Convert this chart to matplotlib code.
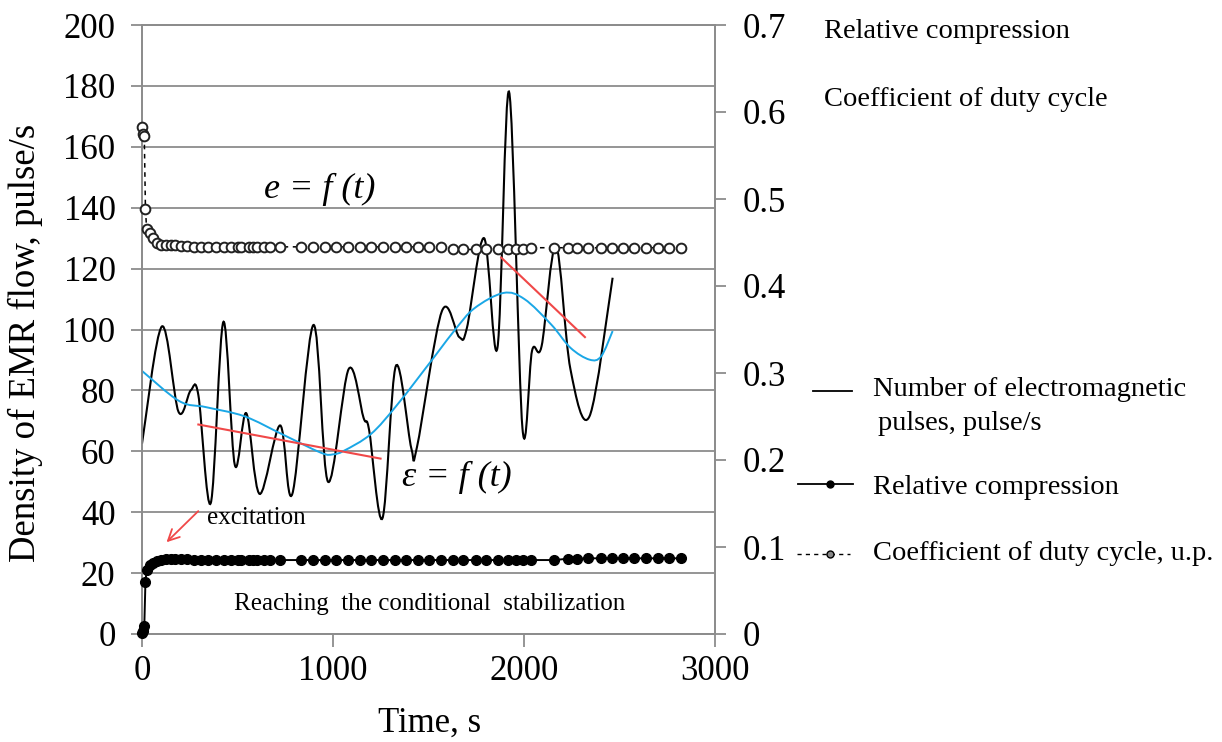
import numpy as np
import matplotlib
matplotlib.use('Agg')
import matplotlib.pyplot as plt
from matplotlib.path import Path
from matplotlib.patches import PathPatch
from matplotlib.lines import Line2D

plt.rcParams['font.family'] = ['Liberation Serif', 'DejaVu Serif']

# ---------------- data ----------------
# Number of electromagnetic pulses, pulse/s (left axis)
pulse_t = [0, 104, 191, 255, 295, 360, 426, 486, 546, 616, 723, 787, 898, 974,
           1082, 1160, 1189, 1259, 1329, 1410, 1440, 1570, 1661, 1701, 1791,
           1861, 1922, 1992, 2042, 2092, 2167, 2243, 2343, 2464]
pulse_v = [62.5, 101, 73, 80, 78.5, 43, 102.5, 55.5, 72.5, 46, 68.5, 46, 101.5, 50,
           87, 71, 67, 38, 88, 61, 61.5, 106, 97.5, 100.5, 130,
           94, 178, 67.5, 93, 94.5, 127.5, 87, 71.5, 117]

# polynomial trend of the pulse series (blue)
trend_t = [0, 195, 335, 536, 737, 938, 1000, 1058, 1199, 1339, 1540, 1640, 1741,
           1892, 2002, 2143, 2243, 2343, 2404, 2464]
trend_v = [86.4, 76.5, 74.5, 71.5, 65.5, 59.5, 59, 60.2, 65.7, 75.5, 91.8, 100, 107,
           112, 110, 101.6, 94, 90.1, 91.2, 99.5]

# red tangent segments
red1_t = [295, 1249]
red1_v = [68.8, 57.6]
red2_t = [1881, 2319]
red2_v = [123.6, 97.5]

# sample times of the two marker series (right axis)
sample_t = [0, 5, 12, 18, 24,
            40, 58, 77, 100, 125,
            150, 175, 205, 235, 270,
            310, 345, 390, 430, 465,
            500, 520, 560, 580, 600,
            640, 670, 720, 835, 895,
            956, 1018, 1078, 1139, 1200,
            1261, 1322, 1383, 1444, 1505,
            1567, 1627, 1680, 1749, 1802,
            1862, 1915, 1958, 1993, 2037,
            2159, 2228, 2280, 2333, 2403,
            2463, 2516, 2577, 2638, 2699,
            2760, 2821]
duty = [0.583, 0.575, 0.572, 0.489, 0.466,
        0.461, 0.455, 0.449, 0.447, 0.447,
        0.447, 0.447, 0.446, 0.446, 0.445,
        0.445, 0.445, 0.445, 0.445, 0.445,
        0.445, 0.445, 0.445, 0.445, 0.445,
        0.445, 0.445, 0.445, 0.445, 0.445,
        0.445, 0.445, 0.445, 0.445, 0.445,
        0.445, 0.445, 0.445, 0.445, 0.445,
        0.445, 0.443, 0.442, 0.442, 0.443,
        0.442, 0.443, 0.443, 0.443, 0.444,
        0.444, 0.444, 0.444, 0.444, 0.444,
        0.444, 0.444, 0.444, 0.444, 0.444,
        0.444, 0.444]
compression = [0.001, 0.004, 0.009, 0.060, 0.073,
               0.079, 0.082, 0.084, 0.085, 0.086,
               0.086, 0.086, 0.086, 0.086, 0.085,
               0.085, 0.085, 0.085, 0.085, 0.085,
               0.085, 0.085, 0.085, 0.085, 0.085,
               0.085, 0.085, 0.085, 0.085, 0.085,
               0.085, 0.085, 0.085, 0.085, 0.085,
               0.085, 0.085, 0.085, 0.085, 0.085,
               0.085, 0.085, 0.085, 0.085, 0.085,
               0.085, 0.085, 0.085, 0.085, 0.085,
               0.085, 0.0865, 0.0865, 0.087, 0.087,
               0.087, 0.087, 0.087, 0.087, 0.087,
               0.087, 0.087]

left_ticks = [0, 20, 40, 60, 80, 100, 120, 140, 160, 180, 200]
right_ticks = [0, 0.1, 0.2, 0.3, 0.4, 0.5, 0.6, 0.7]
right_labels = ['0', '0.1', '0.2', '0.3', '0.4', '0.5', '0.6', '0.7']
x_ticks = [0, 1000, 2000, 3000]

GRAY = '#8c8c8c'
W, H = 1222, 742


def smooth_path(xs, ys, k=1/6):
    """Smoothed line through the points (cubic Bezier segments, Excel-like)."""
    n = len(xs)
    verts = [(xs[0], ys[0])]
    codes = [Path.MOVETO]
    for i in range(n - 1):
        x0, y0 = xs[max(i - 1, 0)], ys[max(i - 1, 0)]
        x1, y1 = xs[i], ys[i]
        x2, y2 = xs[i + 1], ys[i + 1]
        x3, y3 = xs[min(i + 2, n - 1)], ys[min(i + 2, n - 1)]
        verts += [(x1 + (x2 - x0) * k, y1 + (y2 - y0) * k),
                  (x2 - (x3 - x1) * k, y2 - (y3 - y1) * k),
                  (x2, y2)]
        codes += [Path.CURVE4] * 3
    return Path(verts, codes)


fig = plt.figure(figsize=(W / 100, H / 100), dpi=100)
ax = fig.add_axes([142 / W, 1 - 634 / H, (715 - 142) / W, (634 - 25) / H])

ax.set_xlim(0, 3000)
ax.set_ylim(0, 200)
ax.set_xticks(x_ticks)
ax.set_yticks(left_ticks)
ax.set_axisbelow(True)
ax.grid(axis='y', color=GRAY, lw=1.3)
for s in ax.spines.values():
    s.set_color(GRAY)
    s.set_linewidth(1.3)
ax.tick_params(axis='y', direction='out', length=8, width=1.3, color=GRAY,
               labelsize=25, pad=11)
ax.tick_params(axis='x', direction='out', length=9, width=1.3, color=GRAY,
               labelsize=25, pad=6)

# pulses (smoothed) and trend
ax.add_patch(PathPatch(smooth_path(pulse_t, pulse_v), facecolor='none',
                       edgecolor='black', lw=1.5, zorder=3))
ax.add_patch(PathPatch(smooth_path(trend_t, trend_v), facecolor='none',
                       edgecolor='#1aa7e6', lw=1.4, zorder=3))
ax.plot(red1_t, red1_v, color='#f04848', lw=1.5, zorder=4)
ax.plot(red2_t, red2_v, color='#f04848', lw=1.5, zorder=4)

# right axis series
ax2 = ax.twinx()
ax2.set_ylim(0, 0.7)
ax2.set_yticks(right_ticks)
ax2.set_yticklabels(right_labels)
for s in ax2.spines.values():
    s.set_color(GRAY)
    s.set_linewidth(1.3)
ax2.tick_params(axis='y', direction='out', length=8, width=1.3, color=GRAY,
                labelsize=25, pad=12)
ax2.plot(sample_t, duty, color='black', lw=1.1, ls=(0, (3, 3)), marker='o',
         ms=7, mfc='white', mec='#222222', mew=1.4, clip_on=False, zorder=5)
ax2.plot(sample_t, compression, color='black', lw=1.4, marker='o',
         ms=7, mfc='black', mec='black', clip_on=False, zorder=5)

# annotations inside plot
ax.text(930, 146, 'e = f (t)', fontsize=26, style='italic', ha='center', va='center')
ax.text(1646, 51.5, 'ε = f (t)', fontsize=26, style='italic', ha='center', va='center')
ax.text(596, 38.1, 'excitation', fontsize=18, ha='center', va='center')
ax.annotate('', xy=(118, 29.5), xytext=(305, 41),
            arrowprops=dict(arrowstyle='->', color='#f04848', lw=1.3,
                            mutation_scale=20))
ax.text(1505, 9.9, 'Reaching  the conditional  stabilization', fontsize=18,
        ha='center', va='center')

# axis titles
fig.text(25 / W, 1 - 343 / H, 'Density of EMR flow, pulse/s', rotation=90,
         fontsize=26.5, ha='center', va='center')
fig.text(430 / W, 1 - 732 / H, 'Time, s', fontsize=25, ha='center', va='baseline')

# texts on the right
fig.text(824 / W, 1 - 31 / H, 'Relative compression', fontsize=20.5, ha='left', va='center')
fig.text(824 / W, 1 - 100 / H, 'Coefficient of duty cycle', fontsize=20.5, ha='left', va='center')

fig.text(873 / W, 1 - 390 / H, 'Number of electromagnetic', fontsize=20.5, ha='left', va='center')
fig.text(878 / W, 1 - 424 / H, 'pulses, pulse/s', fontsize=20.5, ha='left', va='center')
fig.text(873 / W, 1 - 488 / H, 'Relative compression', fontsize=20.5, ha='left', va='center')
fig.text(873 / W, 1 - 554 / H, 'Coefficient of duty cycle, u.p.', fontsize=20.5, ha='left', va='center')

fig.add_artist(Line2D([813 / W, 852 / W], [1 - 391 / H, 1 - 391 / H],
                      transform=fig.transFigure, color='black', lw=1.3))
fig.add_artist(Line2D([798 / W, 830 / W, 853 / W], [1 - 484 / H] * 3,
                      transform=fig.transFigure, color='black', lw=1.3,
                      marker='o', markevery=[1], ms=5, mfc='black', mec='black'))
fig.add_artist(Line2D([797 / W, 830 / W, 850 / W], [1 - 554 / H] * 3,
                      transform=fig.transFigure, color='black', lw=1.0,
                      ls=(0, (3, 3)), marker='o', markevery=[1], ms=5,
                      mfc='#888888', mec='black'))

fig.savefig('out.png', dpi=100)
